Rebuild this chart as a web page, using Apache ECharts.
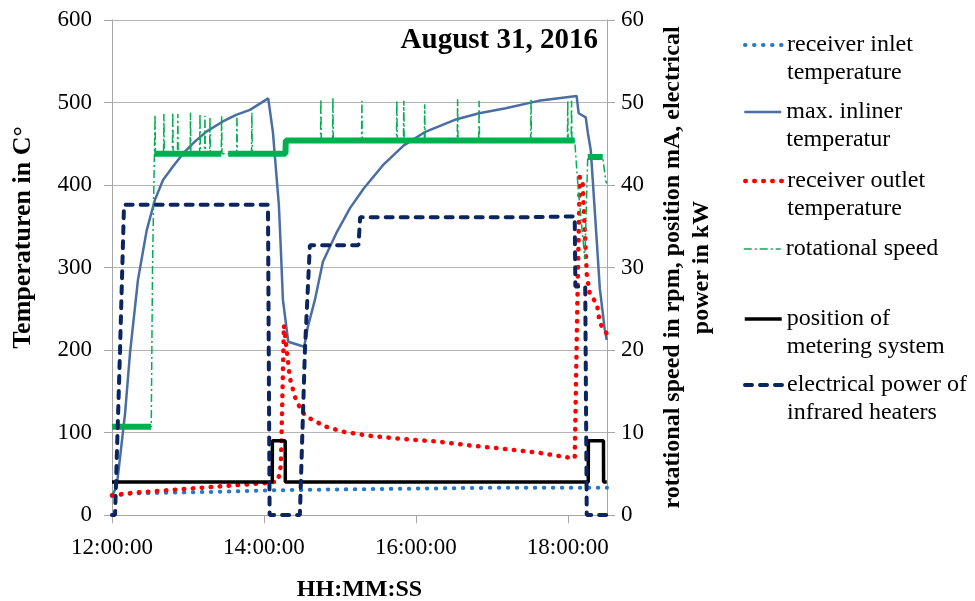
<!DOCTYPE html>
<html><head><meta charset="utf-8">
<script src="https://cdn.jsdelivr.net/npm/echarts@6/dist/echarts.min.js"></script>
<style>html,body{margin:0;padding:0;background:#fff}#c{width:975px;height:601px}</style>
</head><body><div id="c"></div><script>
// x values: minutes after 12:00:00
const tickLabels = ['12:00:00', '14:00:00', '16:00:00', '18:00:00'];
const tickStepMin = 120;
const xMaxMin = 391;
const leftTicks = [0, 600, 100];
const rightTicks = [0, 60, 10];

const seriesNames = [
  'receiver inlet\ntemperature',
  'max. inliner\ntemperatur',
  'receiver outlet\ntemperature',
  'rotational speed',
  'position of\nmetering system',
  'electrical power of\ninfrared heaters'
];

// receiver inlet temperature (°C)
const inletTemp = [[0,23],[15,26],[40,27],[80,28],[130,30],[180,31],[240,32],[300,33],[391,33]];

// max. inliner temperature (°C)
const inlinerTemp = [[0.5,25],[3.7,34],[10.3,123],[14.2,196],[20.5,285],[27.4,345],[33.9,382],[40.3,406],
  [48,422],[56,438],[65,452],[74.8,465],[87.6,477],[98,485],[109,491],[123.4,505],[127.1,464],[131.8,376],[133.4,321],[135,261],
  [139.2,210],[151.8,204],[154.7,228],[160.3,261],[166.6,307],[177.6,343],[188,372],[199,396],[214,424],[230.5,448],
  [247,464],[270.8,479],[290,487],[311,493],[337,502],[367,508],[368.6,487],[374.2,482],[375.8,464],[378.2,442],
  [383,330],[385.3,275],[389.2,225],[390.8,212]];

// receiver outlet temperature (°C)
const outletTemp = [[0,24],[17,27],[44,30],[70,33],[97,36],[124,39],[131,41],[133.4,60],[135.8,230],
  [140.5,166],[144.5,143],[148.4,130],[152.4,121],[156.3,117],[161.6,113],[166.8,108],[182.4,101],
  [203.7,96],[230.5,92],[257.4,89],[284.2,84],[311,80],[337,75.5],[358.8,70],[365.5,69],[367.5,250],
  [369.5,410],[371.8,401],[375,292],[377.4,268],[383,256],[385.3,233],[389.2,223],[390.8,220]];

// rotational speed (rpm), with short spikes
const speed = [[0,10.7],[31,10.7],[32,30],[33.5,43.8],
  [33.7,43.8],[34,48.5],[34.3,43.8],[40.7,43.8],[41,48.6],[41.3,43.8],
  [47.7,43.8],[48,48.8],[48.3,43.8],[51.7,43.8],[52,48.6],[52.3,43.8],
  [61.7,43.8],[62,48.8],[62.3,43.8],[69.2,43.8],[69.5,48.6],[69.8,43.8],
  [73.1,43.8],[73.4,48.4],[73.7,43.8],[77.1,43.8],[77.4,48.2],[77.7,43.8],
  [86.3,43.8],[86.6,48.4],[86.9,43.8],[98.4,43.8],[98.7,48.6],[99,43.8],
  [110.2,43.8],[110.5,48.8],[110.8,43.8],[137,43.8],[137.3,45.4],
  [164.7,45.4],[165,50.4],[165.3,45.4],[174.2,45.4],[174.5,50.6],[174.8,45.4],
  [197.1,45.4],[197.4,50.2],[197.7,45.4],[224.7,45.4],[225,50.2],[225.3,45.4],
  [230.2,45.4],[230.5,50.2],[230.8,45.4],[246.7,45.4],[247,49.8],[247.3,45.4],
  [272.7,45.4],[273,50.4],[273.3,45.4],[289.7,45.4],[290,50.2],[290.3,45.4],
  [330.7,45.4],[331,50.4],[331.3,45.4],[359.7,45.4],[360,50.2],[360.3,45.4],
  [362.7,45.4],[363,50.2],[363.3,45.4],[365.5,45.4],[368,40],[373.5,31],
  [375.8,43.4],[387.6,43.4],[390,40.5],[390.8,40.2]];
// dense noisy band of the rotational speed signal (plateaus)
const speedBand = [[0,10.7],[31,10.7],[31.5,'-'],[33.5,43.8],[86.4,43.8],[87,'-'],[91.8,43.8],
  [137,43.8],[137.3,45.4],[365.5,45.4],[366,'-'],[375.8,43.4],[387.6,43.4]];

// position of metering system (mA)
const position = [[0,4],[126.6,4],[126.7,9],[136.8,9],[136.9,4],[376.2,4],[376.3,9],[388.2,9],[388.3,4],[390.8,4]];

// electrical power of infrared heaters (kW)
const power = [[0,0],[2.4,0],[6.3,19.8],[9.5,37.6],[123.2,37.6],[124.5,0],[148.4,0],[152.4,20],
  [156.3,32.7],[194.7,32.7],[196,36.1],[329,36.1],[365.5,36.2],[366,27.7],[373.8,27.7],[375,0],[390.8,0]];

const FF = 'Liberation Serif';
const chart = echarts.init(document.getElementById('c'), null, {renderer: 'canvas'});

const lineStyles = [
  {width: 4, type: [0.5, 8.5], cap: 'round', color: '#2878c8'},
  {width: 2.5, color: '#4a6da4'},
  {width: 4.5, type: [0.5, 8.5], cap: 'round', color: '#ff0000'},
  {width: 1.5, type: [8, 3, 2, 3], color: '#00b050'},
  {width: 3.5, color: '#000'},
  {width: 4, type: [7, 8], cap: 'round', color: '#0b2560'}
];

function leg(i, y, twoLine) {
  return {
    left: 743, top: twoLine ? y - 42 : y - 14, padding: 0, itemWidth: 37, itemHeight: 14,
    data: [seriesNames[i]], selectedMode: false,
    itemStyle: {opacity: 0},
    lineStyle: Object.assign({}, lineStyles[i]),
    formatter: n => (twoLine ? '\n' : '') + n,
    textStyle: {fontFamily: FF, fontSize: 24, lineHeight: 28, color: '#000'}
  };
}
const axisLabelStyle = {fontFamily: FF, fontSize: 23, color: '#000'};
const nameStyle = {fontFamily: FF, fontSize: 24, fontWeight: 'bold', color: '#000'};

chart.setOption({
  animation: false,
  backgroundColor: '#fff',
  title: {text: 'August 31, 2016', right: 372, top: 21,
    textStyle: {fontFamily: FF, fontSize: 29, fontWeight: 'bold', color: '#000'}},
  grid: {left: 112, right: 368, top: 20, bottom: 86, containLabel: false, outerBoundsMode: 'none'},
  legend: [
    leg(0, 45, true),
    leg(1, 112, true),
    leg(2, 181, true),
    leg(3, 249, false),
    leg(4, 319, true),
    leg(5, 385, true)
  ],
  xAxis: {
    type: 'value', min: 0, max: xMaxMin, interval: tickStepMin,
    name: 'HH:MM:SS', nameLocation: 'middle', nameGap: 63, nameTextStyle: nameStyle,
    axisLine: {show: true, lineStyle: {color: '#a6a6a6', width: 1}},
    axisTick: {show: true, length: 8, lineStyle: {color: '#a6a6a6'}},
    axisLabel: Object.assign({margin: 21, showMaxLabel: false,
      formatter: v => (v % tickStepMin === 0 && tickLabels[v / tickStepMin]) || ''}, axisLabelStyle),
    splitLine: {show: false}
  },
  yAxis: [
    {type: 'value', min: leftTicks[0], max: leftTicks[1], interval: leftTicks[2], position: 'left',
      name: 'Temperaturen in C°', nameLocation: 'middle', nameGap: 76, nameRotate: 90,
      nameTextStyle: Object.assign({padding: [0, 0, 0, 60]}, nameStyle, {fontSize: 26}),
      axisLine: {show: true, lineStyle: {color: '#a6a6a6'}},
      axisTick: {show: true, length: 8, lineStyle: {color: '#a6a6a6'}},
      axisLabel: Object.assign({margin: 20}, axisLabelStyle),
      splitLine: {show: true, lineStyle: {color: '#b5b5b5', width: 1}}},
    {type: 'value', min: rightTicks[0], max: rightTicks[1], interval: rightTicks[2], position: 'right',
      name: 'rotational speed in rpm, position mA, electrical\npower in kW', nameLocation: 'middle',
      nameGap: 51, nameRotate: 90, nameTextStyle: Object.assign({lineHeight: 29}, nameStyle),
      axisLine: {show: true, lineStyle: {color: '#a6a6a6'}},
      axisTick: {show: true, length: 8, lineStyle: {color: '#a6a6a6'}},
      axisLabel: Object.assign({margin: 14}, axisLabelStyle),
      splitLine: {show: false}}
  ],
  series: [
    {name: seriesNames[0], type: 'line', yAxisIndex: 0, data: inletTemp, symbol: 'none', color: '#2878c8',
      lineStyle: lineStyles[0]},
    {name: seriesNames[1], type: 'line', yAxisIndex: 0, data: inlinerTemp, symbol: 'none', color: '#4a6da4',
      lineStyle: lineStyles[1]},
    {name: seriesNames[2], type: 'line', yAxisIndex: 0, data: outletTemp, symbol: 'none', color: '#ff0000',
      lineStyle: lineStyles[2]},
    {name: 'speedBand', type: 'line', yAxisIndex: 1, data: speedBand, symbol: 'none', connectNulls: false,
      lineStyle: {width: 6, color: '#00b050'}, silent: true},
    {name: seriesNames[3], type: 'line', yAxisIndex: 1, data: speed, symbol: 'none', color: '#00b050',
      lineStyle: lineStyles[3]},
    {name: seriesNames[4], type: 'line', yAxisIndex: 1, data: position, symbol: 'none', color: '#000',
      lineStyle: lineStyles[4]},
    {name: seriesNames[5], type: 'line', yAxisIndex: 1, data: power, symbol: 'none', color: '#0b2560',
      lineStyle: lineStyles[5]}
  ]
});
</script></body></html>
